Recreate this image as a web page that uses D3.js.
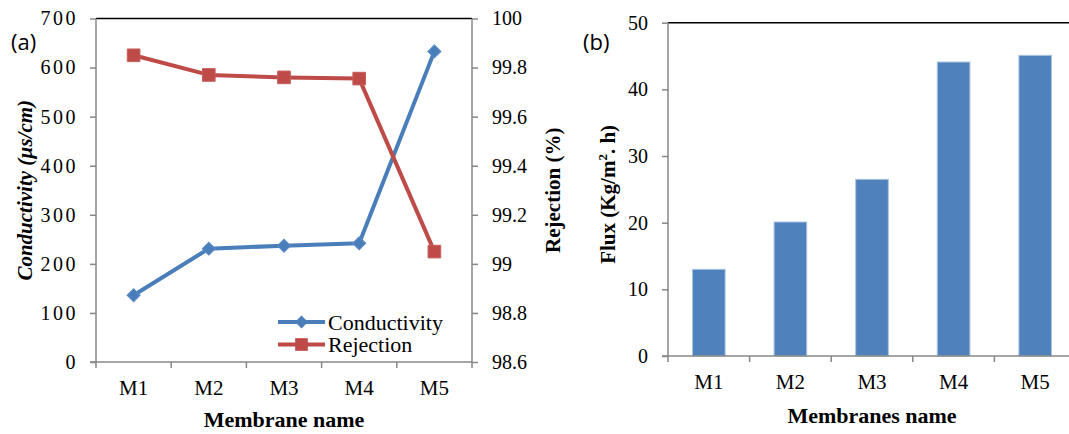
<!DOCTYPE html>
<html>
<head>
<meta charset="utf-8">
<script src="https://cdn.jsdelivr.net/npm/d3@7"></script>
<style>
  html, body { margin: 0; padding: 0; background: #fff; }
  svg { display: block; }
  text { font-family: "Liberation Serif", "Times New Roman", serif; fill: #000; }
</style>
</head>
<body>
<svg id="chart" width="1069" height="434"></svg>
<script>
// ---- data ----
const membranes = ["M1", "M2", "M3", "M4", "M5"];
const conductivity = [136, 231, 237, 242, 633];
const rejection = [99.85, 99.77, 99.76, 99.755, 99.05];
const flux = [13.0, 20.1, 26.5, 44.1, 45.1];
const condTicks = [0, 100, 200, 300, 400, 500, 600, 700];
const rejTicks = [98.6, 98.8, 99, 99.2, 99.4, 99.6, 99.8, 100];
const fluxTicks = [0, 10, 20, 30, 40, 50];

const svg = d3.select("#chart");
const GRAY = "#878787";
const BLUE = "#4A7EBB";
const RED = "#BE4B48";
const BAR = "#4F81BD";

function styleAxis(g) {
  g.select(".domain").remove();
  g.attr("font-family", null);
  g.selectAll(".tick line").attr("stroke", GRAY).attr("stroke-width", 1.5);
  g.selectAll(".tick text").style("font-family", "'Liberation Serif', serif").attr("fill", "#000");
}

// ================= Panel (a) =================
const aL = 96, aR = 472, aT = 18.5, aB = 362;
const xa = d3.scaleBand().domain(membranes).range([aL, aR]).padding(0);
const yc = d3.scaleLinear().domain([0, 700]).range([aB, aT]);
const yr = d3.scaleLinear().domain([98.6, 100]).range([aB, aT]);

const pa = svg.append("g");

// left axis
const gyl = pa.append("g").attr("transform", `translate(${aL},0)`)
  .call(d3.axisLeft(yc).tickValues(condTicks).tickSize(6).tickPadding(14).tickFormat(d3.format("d")));
styleAxis(gyl);
gyl.selectAll(".tick text").style("font-size", "20px").style("letter-spacing", "2.5px").attr("dx", "2");

// right axis
const gyr = pa.append("g").attr("transform", `translate(${aR},0)`)
  .call(d3.axisRight(yr).tickValues(rejTicks).tickSize(6).tickPadding(14).tickFormat(d => String(+d.toFixed(1))));
styleAxis(gyr);
gyr.selectAll(".tick text").style("font-size", "20px");

// bottom axis: ticks at band boundaries
const gxa = pa.append("g").attr("transform", `translate(0,${aB})`)
  .call(d3.axisBottom(xa).tickSize(0).tickPadding(18));
styleAxis(gxa);
gxa.selectAll(".tick text").style("font-size", "21px").attr("dy", "0.71em");
pa.selectAll(".bnd").data(membranes.concat(["end"])).enter().append("line")
  .attr("x1", (d, i) => i < membranes.length ? xa(d) : aR)
  .attr("x2", (d, i) => i < membranes.length ? xa(d) : aR)
  .attr("y1", aB).attr("y2", aB + 6).attr("stroke", GRAY).attr("stroke-width", 1.5);

// frame lines
pa.append("line").attr("x1", aL).attr("x2", aR).attr("y1", aT).attr("y2", aT).attr("stroke", "#000").attr("stroke-width", 1.5);
pa.append("line").attr("x1", aL).attr("x2", aL).attr("y1", aT).attr("y2", aB).attr("stroke", GRAY).attr("stroke-width", 1.5);
pa.append("line").attr("x1", aR).attr("x2", aR).attr("y1", aT).attr("y2", aB).attr("stroke", GRAY).attr("stroke-width", 1.5);
pa.append("line").attr("x1", aL - 6).attr("x2", aR).attr("y1", aB).attr("y2", aB).attr("stroke", GRAY).attr("stroke-width", 1.5);

const cx = d => xa(d) + xa.bandwidth() / 2;

// Conductivity line
pa.append("path")
  .datum(membranes.map((m, i) => [cx(m), yc(conductivity[i])]))
  .attr("d", d3.line()).attr("fill", "none").attr("stroke", BLUE).attr("stroke-width", 4).attr("stroke-linejoin", "round");
// Rejection line
pa.append("path")
  .datum(membranes.map((m, i) => [cx(m), yr(rejection[i])]))
  .attr("d", d3.line()).attr("fill", "none").attr("stroke", RED).attr("stroke-width", 4).attr("stroke-linejoin", "round");

const diamond = d3.symbol().type(d3.symbolSquare).size(85)();
const square = d3.symbol().type(d3.symbolSquare).size(160)();

pa.selectAll(".dm").data(membranes).enter().append("path")
  .attr("d", diamond)
  .attr("transform", (m, i) => `translate(${cx(m)},${yc(conductivity[i])}) rotate(45)`)
  .attr("fill", BLUE).attr("stroke", "#5B8BC7").attr("stroke-width", 1);
pa.selectAll(".sq").data(membranes).enter().append("path")
  .attr("d", square)
  .attr("transform", (m, i) => `translate(${cx(m)},${yr(rejection[i])})`)
  .attr("fill", RED).attr("stroke", "#C65E5B").attr("stroke-width", 1);

// legend
const leg = pa.append("g");
const legItems = [
  { name: "Conductivity", color: BLUE, sym: "d", y: 322 },
  { name: "Rejection", color: RED, sym: "s", y: 344.5 }
];
legItems.forEach(it => {
  leg.append("line").attr("x1", 278).attr("x2", 325).attr("y1", it.y).attr("y2", it.y)
    .attr("stroke", it.color).attr("stroke-width", 4);
  leg.append("path").attr("d", it.sym === "d" ? diamond : square)
    .attr("transform", `translate(301.5,${it.y})` + (it.sym === "d" ? " rotate(45)" : ""))
    .attr("fill", it.color);
  leg.append("text").attr("x", 328).attr("y", it.y + 7.5).style("font-size", "22px").text(it.name);
});

// titles
pa.append("text").attr("transform", `translate(32,${(aT + aB) / 2}) rotate(-90)`)
  .attr("text-anchor", "middle").style("font-size", "21px").style("font-weight", "bold").style("font-style", "italic")
  .text("Conductivity (µs/cm)");
pa.append("text").attr("transform", `translate(560,${(aT + aB) / 2}) rotate(-90)`)
  .attr("text-anchor", "middle").style("font-size", "21px").style("font-weight", "bold")
  .text("Rejection (%)");
pa.append("text").attr("x", (aL + aR) / 2).attr("y", 427)
  .attr("text-anchor", "middle").style("font-size", "22px").style("font-weight", "bold")
  .text("Membrane name");
pa.append("text").attr("x", 11).attr("y", 50)
  .style("font-family", "'Open Sans', sans-serif").style("font-size", "22px").text("(a)");

// ================= Panel (b) =================
const bL = 668, bR = 1076, bT = 22.7, bB = 356;
const xb = d3.scaleBand().domain(membranes).range([bL, bR]).paddingInner(0.6).paddingOuter(0.3);
const xbTick = d3.scaleBand().domain(membranes).range([bL, bR]).padding(0);
const yf = d3.scaleLinear().domain([0, 50]).range([bB, bT]);

const pb = svg.append("g");
const gyb = pb.append("g").attr("transform", `translate(${bL},0)`)
  .call(d3.axisLeft(yf).tickValues(fluxTicks).tickSize(6).tickPadding(14));
styleAxis(gyb);
gyb.selectAll(".tick text").style("font-size", "20px");

pb.selectAll(".bar").data(membranes).enter().append("rect")
  .attr("x", d => xb(d)).attr("width", xb.bandwidth())
  .attr("y", (d, i) => yf(flux[i])).attr("height", (d, i) => bB - yf(flux[i]))
  .attr("fill", BAR).attr("stroke", "#A9C2E0").attr("stroke-width", 1);

const gxb = pb.append("g").attr("transform", `translate(0,${bB})`)
  .call(d3.axisBottom(xbTick).tickSize(0).tickPadding(18));
styleAxis(gxb);
gxb.selectAll(".tick text").style("font-size", "21px").attr("dy", "0.71em");
pb.selectAll(".bnd").data(membranes).enter().append("line")
  .attr("x1", d => xbTick(d)).attr("x2", d => xbTick(d))
  .attr("y1", bB).attr("y2", bB + 6).attr("stroke", GRAY).attr("stroke-width", 1.5);

pb.append("line").attr("x1", bL).attr("x2", bR).attr("y1", bT).attr("y2", bT).attr("stroke", "#000").attr("stroke-width", 1.5);
pb.append("line").attr("x1", bL).attr("x2", bL).attr("y1", bT).attr("y2", bB).attr("stroke", GRAY).attr("stroke-width", 1.5);
pb.append("line").attr("x1", bL - 6).attr("x2", bR).attr("y1", bB).attr("y2", bB).attr("stroke", GRAY).attr("stroke-width", 1.5);

pb.append("text").attr("transform", `translate(615,${(bT + bB) / 2 + 5}) rotate(-90)`)
  .attr("text-anchor", "middle").style("font-size", "21px").style("font-weight", "bold")
  .html('Flux (Kg/m<tspan dy="-8" font-size="13px">2</tspan><tspan dy="8">. h)</tspan>');
pb.append("text").attr("x", (bL + bR) / 2).attr("y", 423)
  .attr("text-anchor", "middle").style("font-size", "22px").style("font-weight", "bold")
  .text("Membranes name");
pb.append("text").attr("x", 583).attr("y", 50)
  .style("font-family", "'Open Sans', sans-serif").style("font-size", "22px").text("(b)");
</script>
</body>
</html>
